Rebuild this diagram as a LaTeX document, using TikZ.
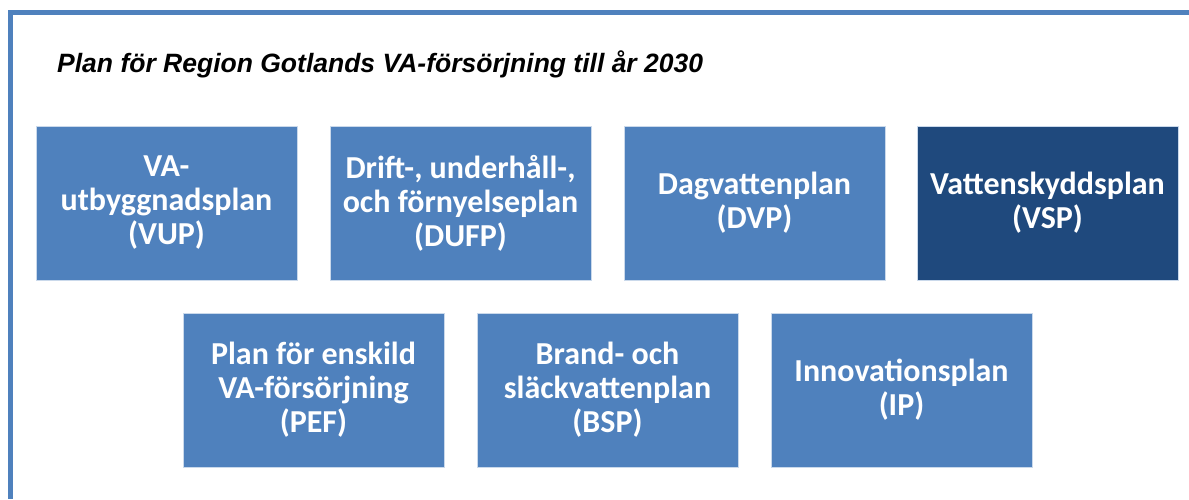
\documentclass[tikz,border=0pt]{standalone}
\usepackage{fontspec}
\setmainfont{Carlito}
\newfontfamily\titlefont{Liberation Sans}
\definecolor{midblue}{HTML}{4F81BD}
\definecolor{darkblue}{HTML}{1F497D}
\begin{document}
\begin{tikzpicture}[x=1pt,y=-1pt,
  planbox/.style={draw=white!70!midblue, line width=0.8pt, fill=midblue, minimum width=261pt, minimum height=154pt, inner sep=0pt,
    text=white, font=\fontsize{32}{34}\selectfont\bfseries, align=center, anchor=center},
  framestyle/.style={draw=midblue, line width=5pt}]
\useasboundingbox (0,0) rectangle (1189,499);
\coordinate (ftr) at (1189,12.5);
\coordinate (ftl) at (10,12.5);
\coordinate (fbl) at (10,499);
\draw[framestyle] (ftr) -- (ftl) -- (fbl);
\node[anchor=base west, inner sep=0pt, font=\titlefont\fontsize{26.5}{30}\selectfont\bfseries\itshape] (title) at (57,72) {Plan för Region Gotlands VA-försörjning till år 2030};
\node[planbox] (vup) at (166.5,203) {VA-\\utbyggnadsplan\\(VUP)};
\node[planbox] (dufp) at (460.5,203) {Drift-, underhåll-,\\och förnyelseplan\\(DUFP)};
\node[planbox] (dvp) at (754.5,203) {Dagvattenplan\\(DVP)};
\node[planbox, fill=darkblue] (vsp) at (1047.5,203) {Vattenskyddsplan\\(VSP)};
\node[planbox] (pef) at (313.5,390) {Plan för enskild\\VA-försörjning\\(PEF)};
\node[planbox] (bsp) at (607.5,390) {Brand- och\\släckvattenplan\\(BSP)};
\node[planbox] (ip) at (901.5,390) {Innovationsplan\\(IP)};
\end{tikzpicture}
\end{document}
